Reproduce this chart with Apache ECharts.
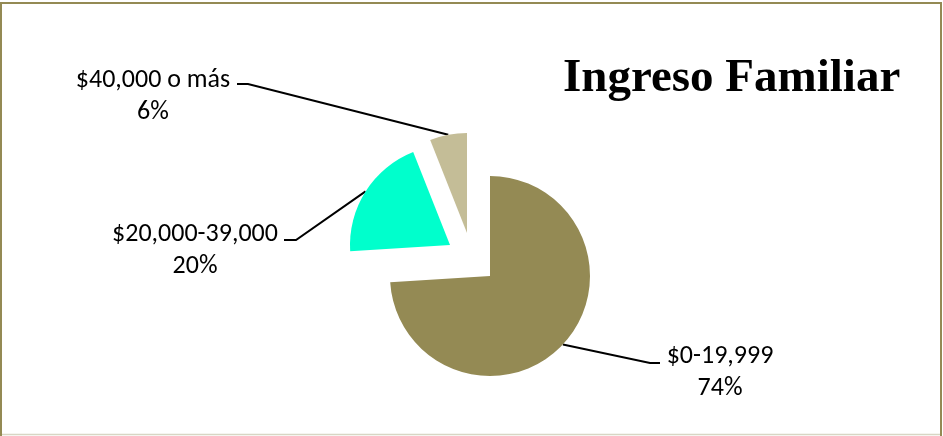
<!DOCTYPE html>
<html>
<head>
<meta charset="utf-8">
<script src="https://cdn.jsdelivr.net/npm/echarts@6/dist/echarts.min.js"></script>
<style>
    html, body { margin: 0; padding: 0; background: #fff; }
    #chart { width: 943px; height: 436px; }
</style>
</head>
<body>
<div id="chart"></div>
<script>
// datos
const categories = ['$0-19,999', '$20,000-39,000', '$40,000 o más'];
const shares = [74, 20, 6];
const sliceColors = ['#948A54', '#00FFCC', '#C4BD97'];

// each slice is pulled out by its own amount, so every slice gets its own centre
const sliceCenters = [[490, 276], [450, 245], [467, 233]];
const pieRadius = 100;
// label centres and the two leader line points (bend, end)
const labelSpots = [[720, 372], [195, 250], [153, 96]];
const leaderBends = [[[650, 363], [660, 363]], [[296, 240], [284, 240]], [[248, 84], [237, 84]]];

const chart = echarts.init(document.getElementById('chart'));

const makeSeries = function (own) {
    return {
        type: 'pie',
        center: sliceCenters[own],
        radius: pieRadius,
        startAngle: 90,
        clockwise: true,
        silent: true,
        animation: false,
        emphasis: { disabled: true },
        label: {
            formatter: '{b}\n{d}%',
            color: '#000',
            fontSize: 26,
            lineHeight: 32,
            fontFamily: 'Carlito, "Open Sans", sans-serif',
            align: 'center'
        },
        labelLine: {
            lineStyle: { color: '#000', width: 2 }
        },
        labelLayout: params => {
            if (params.dataIndex !== own) return {};
            const anchor = params.labelLinePoints ? params.labelLinePoints[0] : sliceCenters[own];
            return {
                x: labelSpots[own][0],
                y: labelSpots[own][1],
                align: 'center',
                verticalAlign: 'middle',
                labelLinePoints: [anchor, leaderBends[own][0], leaderBends[own][1]]
            };
        },
        data: categories.map((name, i) => {
            const item = { name: name, value: shares[i], itemStyle: { color: sliceColors[i] } };
            if (i !== own) {
                item.itemStyle = { color: 'transparent' };
                item.label = { show: false };
                item.labelLine = { show: false };
            }
            return item;
        })
    };
};

chart.setOption({
    backgroundColor: '#fff',
    title: {
        text: 'Ingreso Familiar',
        left: 558,
        top: 50,
        textStyle: {
            fontFamily: '"Liberation Serif", "Times New Roman", serif',
            fontWeight: 'bold',
            fontSize: 47,
            color: '#000'
        }
    },
    graphic: [
        {
            type: 'polyline',
            shape: { points: [[1, 436], [1, 3], [941, 3], [941, 436]] },
            style: { stroke: '#948A54', lineWidth: 2, fill: null }
        },
        {
            type: 'line',
            shape: { x1: 2, y1: 434.5, x2: 940, y2: 434.5 },
            style: { stroke: '#D8D6C4', lineWidth: 1.5 }
        }
    ],
    series: categories.map((c, i) => makeSeries(i))
});
</script>
</body>
</html>
